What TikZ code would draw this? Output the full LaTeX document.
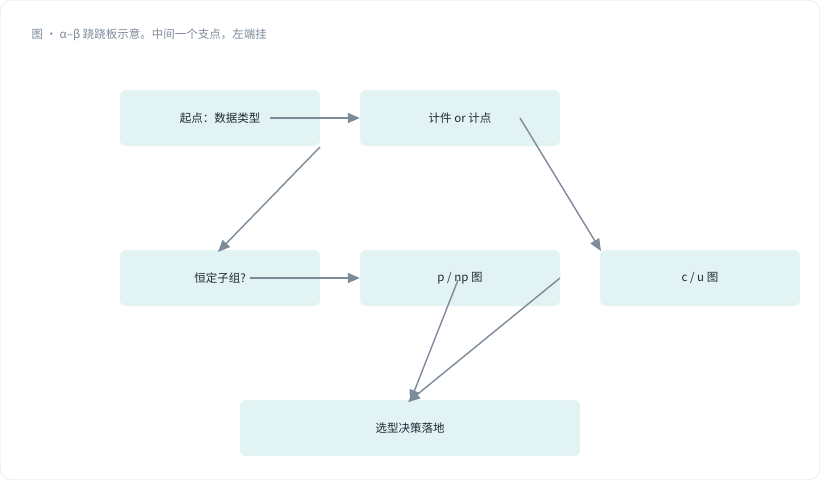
\documentclass[tikz,border=0pt]{standalone}
\usepackage{fontspec}
\setmainfont{Noto Sans CJK SC}
\usetikzlibrary{arrows.meta,positioning}
\definecolor{boxfill}{HTML}{E2F3F3}
\definecolor{edge}{HTML}{7D8A9A}
\definecolor{ink}{HTML}{1F2A37}
\tikzset{
  stage/.style={draw=none,fill=boxfill,rounded corners=6pt,minimum height=56pt,
    text=ink,font=\fontsize{11.5pt}{13pt}\selectfont},
  flow/.style={draw=edge,line width=1.4pt,-{Triangle[length=12pt,width=10pt]}}
}
\begin{document}
\begin{tikzpicture}[x=1pt,y=-1pt]
      \useasboundingbox (0,0) rectangle (820,480);
      \draw[draw=black!12,fill=white,rounded corners=10pt] (0.5,0.5) rectangle (819.5,479.5);
      \node[anchor=west,text=edge,font=\fontsize{11.5pt}{13pt}\selectfont] (title) at (28,35) {图 · α–β 跷跷板示意。中间一个支点，左端挂};
      \node[stage,minimum width=200pt] (start) at (220,118) {起点：数据类型};
      \node[stage,minimum width=200pt] (count) at (460,118) {计件 or 计点};
      \node[stage,minimum width=200pt] (sub) at (220,278) {恒定子组?};
      \node[stage,minimum width=200pt] (pnp) at (460,278) {p / np 图};
      \node[stage,minimum width=200pt] (cu) at (700,278) {c / u 图};
      \node[stage,minimum width=340pt] (done) at (410,428) {选型决策落地};
      % connectors start inside the boxes
      \coordinate (s1) at (270,118);
      \coordinate (s2) at (320,147);
      \coordinate (s3) at (520,118);
      \coordinate (s4) at (250,278);
      \coordinate (s5) at (458,280);
      \coordinate (s6) at (560,278);
      \draw[flow] (s1) -- (count.west);
      \draw[flow] (s2) -- (218,252);
      \draw[flow] (s3) -- (601,251);
      \draw[flow] (s4) -- (pnp.west);
      \draw[flow] (s5) -- (410,402);
      \draw[flow] (s6) -- (408,402);
\end{tikzpicture}
\end{document}
